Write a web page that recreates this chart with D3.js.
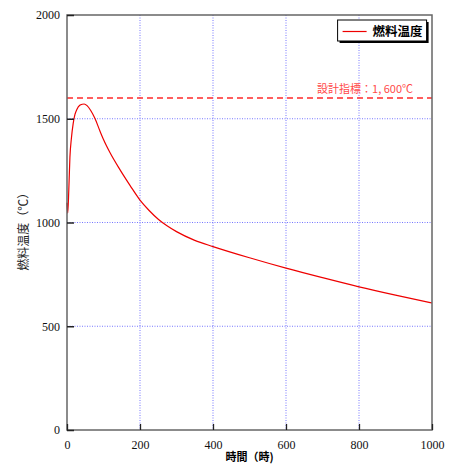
<!DOCTYPE html>
<html>
<head>
<meta charset="utf-8">
<script src="https://cdn.jsdelivr.net/npm/d3@7"></script>
<style>
  body { margin: 0; background: #fff; }
  svg { display: block; }
</style>
</head>
<body>
<script>
// Fuel temperature over time
const hours = [0, 2, 5, 8, 12, 17, 22, 27, 35, 42, 47, 55, 65, 77, 90, 100, 118, 145, 173, 200, 225, 250, 275, 300, 350, 400, 500, 600, 700, 800, 900, 1000];
const fuelTemp = [1095, 1045, 1160, 1315, 1405, 1478, 1522, 1545, 1565, 1570, 1571, 1563, 1540, 1500, 1442, 1400, 1336, 1255, 1178, 1108, 1058, 1016, 983, 956, 914, 884, 830, 780, 734, 690, 650, 612];
const xTicks = [0, 200, 400, 600, 800, 1000];
const yTicks = [0, 500, 1000, 1500, 2000];
const designLimit = 1600;
const seriesName = '燃料温度';
const limitLabel = '設計指標：1, 600℃';

const W = 454, H = 464;
const margin = { top: 15, right: 22, bottom: 34, left: 67 };
const width = W - margin.left - margin.right;
const height = H - margin.top - margin.bottom;

const cjk = '"Noto Sans CJK JP", sans-serif';
const serif = "'Liberation Serif', 'Times New Roman', Times, serif";

const x = d3.scaleLinear().domain([0, 1000]).range([0, width]);
const y = d3.scaleLinear().domain([0, 2000]).range([height, 0]);

const svg = d3.select('body').append('svg')
    .attr('width', W)
    .attr('height', H)
  .append('g')
    .attr('transform', 'translate(' + margin.left + ',' + margin.top + ')');

// dotted grid, inner lines only
svg.selectAll('.vgrid')
  .data(xTicks.filter((d) => d > 0 && d < 1000))
  .enter().append('line')
    .attr('x1', (d) => x(d)).attr('x2', (d) => x(d))
    .attr('y1', 0).attr('y2', height)
    .attr('stroke', '#7777ff')
    .attr('stroke-width', 1)
    .attr('stroke-dasharray', '1,1.5');

svg.selectAll('.hgrid')
  .data(yTicks.filter((d) => d > 0 && d < 2000))
  .enter().append('line')
    .attr('x1', 0).attr('x2', width)
    .attr('y1', (d) => y(d)).attr('y2', (d) => y(d))
    .attr('stroke', '#7777ff')
    .attr('stroke-width', 1)
    .attr('stroke-dasharray', '1,1.5');

// design limit
svg.append('line')
  .attr('x1', 0).attr('x2', width)
  .attr('y1', y(designLimit)).attr('y2', y(designLimit))
  .attr('stroke', '#ff2a2a')
  .attr('stroke-width', 1.5)
  .attr('stroke-dasharray', '6,4');

svg.append('text')
  .attr('x', x(948))
  .attr('y', y(designLimit) - 5)
  .attr('text-anchor', 'end')
  .attr('font-family', cjk)
  .attr('font-size', 11)
  .attr('fill', '#ff4a4a')
  .text(limitLabel);

// curve
const line = d3.line()
  .x((d, i) => x(hours[i]))
  .y((d) => y(d))
  .curve(d3.curveMonotoneX);

svg.append('path')
  .datum(fuelTemp)
  .attr('fill', 'none')
  .attr('stroke', '#ee0000')
  .attr('stroke-width', 1.2)
  .attr('d', line);

// frame
svg.append('rect')
  .attr('x', 0).attr('y', 0)
  .attr('width', width).attr('height', height)
  .attr('fill', 'none')
  .attr('stroke', '#666')
  .attr('stroke-width', 1.5);

// axes with inward ticks
const xAxis = svg.append('g')
  .attr('transform', 'translate(0,' + height + ')')
  .call(d3.axisBottom(x).tickValues(xTicks).tickFormat(d3.format('d'))
    .tickSize(-6).tickPadding(10).tickSizeOuter(0));
xAxis.select('.domain').remove();
xAxis.selectAll('line').attr('stroke', '#222').attr('stroke-width', 1.3);
xAxis.selectAll('text')
  .style('font-family', serif)
  .style('font-size', '12px')
  .attr('fill', '#111');

const yAxis = svg.append('g')
  .call(d3.axisLeft(y).tickValues(yTicks).tickFormat(d3.format('d'))
    .tickSize(-7).tickPadding(7).tickSizeOuter(0));
yAxis.select('.domain').remove();
yAxis.selectAll('line').attr('stroke', '#222').attr('stroke-width', 1.5);
yAxis.selectAll('text')
  .style('font-family', serif)
  .style('font-size', '12px')
  .attr('fill', '#111');

// axis titles
svg.append('text')
  .attr('x', width / 2)
  .attr('y', height + 31)
  .attr('text-anchor', 'middle')
  .attr('font-family', cjk)
  .attr('font-size', 11)
  .attr('font-weight', 'bold')
  .text('時間（時)');

svg.append('text')
  .attr('transform', 'rotate(-90)')
  .attr('x', -(y(970)))
  .attr('y', -39)
  .attr('text-anchor', 'middle')
  .attr('font-family', cjk)
  .attr('font-size', 12)
  .attr('fill', '#222')
  .text('燃料温度（℃）');

// legend box with shadow
const lg = svg.append('g')
  .attr('transform', 'translate(' + (x(740) + 0.5) + ',5)');
lg.append('rect')
  .attr('x', 2).attr('y', 2)
  .attr('width', 89).attr('height', 21)
  .attr('fill', '#000');
lg.append('rect')
  .attr('x', 0).attr('y', 0)
  .attr('width', 89).attr('height', 21)
  .attr('fill', '#fff')
  .attr('stroke', '#000')
  .attr('stroke-width', 1);
lg.append('line')
  .attr('x1', 5).attr('x2', 29)
  .attr('y1', 11.5).attr('y2', 11.5)
  .attr('stroke', '#ee0000')
  .attr('stroke-width', 1.2);
lg.append('text')
  .attr('x', 35)
  .attr('y', 16)
  .attr('font-family', cjk)
  .attr('font-size', 12.5)
  .attr('font-weight', 'bold')
  .text(seriesName);
</script>
</body>
</html>
